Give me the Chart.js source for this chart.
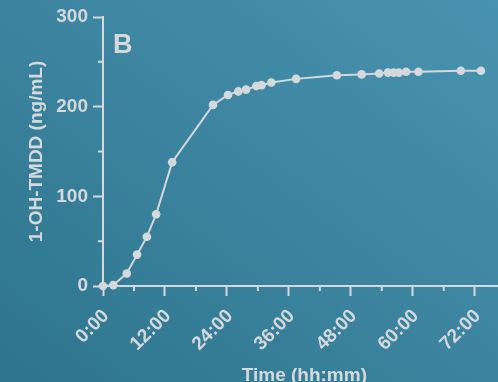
<!DOCTYPE html>
<html lang="en">
  <head>
    <meta charset="UTF-8" />
    <title>1-OH-TMDD</title>
    <style>
      html,
      body {
        margin: 0;
        width: 498px;
        height: 382px;
        overflow: hidden;
        background: linear-gradient(to top right, #2e748c, #4993b2);
      }
      canvas {
        display: block;
      }
    </style>
  </head>
  <body>
    <canvas id="myChart" width="510" height="390"></canvas>

    <script src="https://cdn.jsdelivr.net/npm/chart.js"></script>

    <script>
      // sampling times in hours, concentration in ng/mL
      const hours = [
        0, 2, 4.6, 6.6, 8.5, 10.3, 13.4, 21.3, 24.2, 26.2, 27.7, 29.7, 30.7,
        32.6, 37.4, 45.3, 50.1, 53.5, 55.2, 56.3, 57.3, 58.7, 61.1, 69.3, 73.2,
      ];
      const conc = [
        0, 1, 14, 35, 55, 80, 138, 202, 213, 217, 219, 223, 224, 227, 231, 235,
        236, 237, 238, 238, 238, 239, 239, 240, 240,
      ];
      const yTicks = [0, 100, 200, 300];
      const xTicks = [0, 12, 24, 36, 48, 60, 72];
      const panelLabel = "B";

      const fg = "#d6d9db";
      Chart.defaults.font.family = '"Liberation Sans", Arial, sans-serif';
      Chart.defaults.font.weight = "bold";
      Chart.defaults.font.size = 19;
      Chart.defaults.color = fg;

      const points = hours.map((h, i) => ({ x: h, y: conc[i] }));

      // short minor ticks + panel letter
      const extras = {
        id: "extras",
        afterDraw(chart) {
          const { ctx, scales: { x, y } } = chart;
          ctx.save();
          ctx.strokeStyle = fg;
          ctx.lineWidth = 2;
          ctx.beginPath();
          x.ticks.forEach((t) => {
            if (xTicks.includes(t.value)) return;
            const px = x.getPixelForValue(t.value);
            ctx.moveTo(px, x.top);
            ctx.lineTo(px, x.top + 5);
          });
          y.ticks.forEach((t) => {
            if (yTicks.includes(t.value)) return;
            const py = y.getPixelForValue(t.value);
            ctx.moveTo(y.right, py);
            ctx.lineTo(y.right - 5, py);
          });
          ctx.stroke();

          ctx.font = 'bold 27px "Liberation Sans", Arial, sans-serif';
          ctx.fillStyle = fg;
          ctx.textBaseline = "alphabetic";
          ctx.textAlign = "left";
          ctx.fillText(panelLabel, 113, 53);
          ctx.restore();
        },
      };

      const ctx = document.getElementById("myChart").getContext("2d");
      new Chart(ctx, {
        type: "line",
        data: {
          datasets: [
            {
              data: points,
              borderColor: fg,
              backgroundColor: fg,
              borderWidth: 2,
              pointRadius: 4.3,
              pointBorderWidth: 0,
              pointHoverRadius: 4.3,
              tension: 0,
              clip: false,
            },
          ],
        },
        options: {
          responsive: false,
          animation: false,
          layout: { padding: { top: 17, right: 4, bottom: 0, left: 0 } },
          plugins: {
            legend: { display: false },
            tooltip: { enabled: false },
          },
          scales: {
            x: {
              type: "linear",
              min: 0,
              max: 78,
              afterFit(scale) {
                scale.height = 104;
                scale.paddingRight = 0;
              },
              border: { display: true, color: fg, width: 2 },
              grid: {
                drawOnChartArea: false,
                tickLength: 10,
                tickWidth: 2,
                tickColor: (c) =>
                  c.tick && xTicks.includes(c.tick.value) ? fg : "transparent",
              },
              ticks: {
                stepSize: 6,
                autoSkip: false,
                maxRotation: 45,
                minRotation: 45,
                padding: 9,
                labelOffset: 3,
                callback: (v) => (xTicks.includes(v) ? v + ":00" : ""),
              },
              title: {
                display: true,
                text: "Time (hh:mm)",
                padding: { top: 4, bottom: 3 },
              },
            },
            y: {
              min: 0,
              max: 300,
              afterFit(scale) {
                scale.width = 103;
              },
              border: { display: true, color: fg, width: 2 },
              grid: {
                drawOnChartArea: false,
                tickLength: 10,
                tickWidth: 2,
                tickColor: (c) =>
                  c.tick && yTicks.includes(c.tick.value) ? fg : "transparent",
              },
              ticks: {
                stepSize: 50,
                padding: 5,
                callback: (v) => (yTicks.includes(v) ? v : ""),
              },
              title: {
                display: true,
                text: "1-OH-TMDD (ng/mL)",
                padding: { top: 25, bottom: 0 },
              },
            },
          },
        },
        plugins: [extras],
      });
    </script>
  </body>
</html>
